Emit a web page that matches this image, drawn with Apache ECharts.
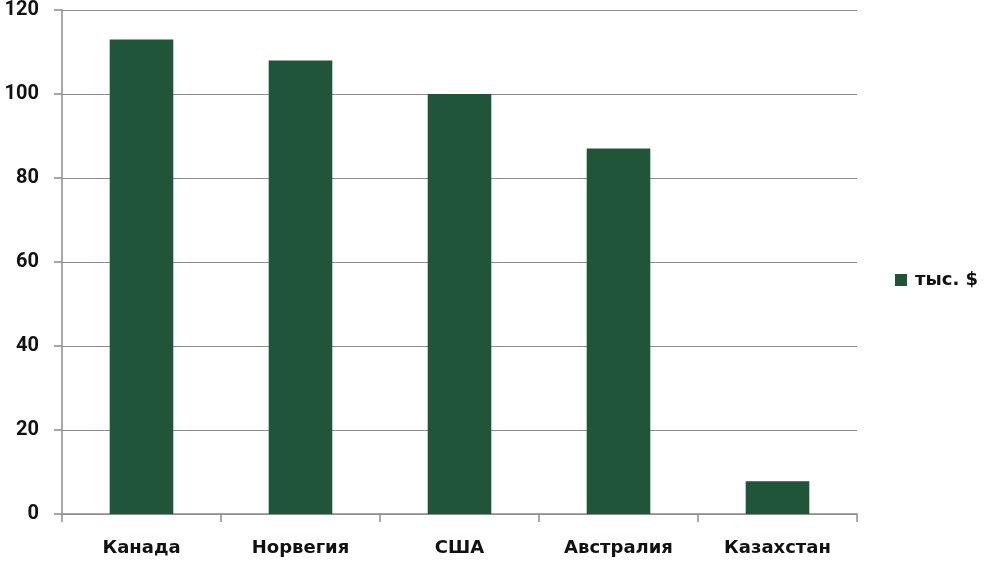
<!DOCTYPE html>
<html><head><meta charset="utf-8">
<script src="https://cdn.jsdelivr.net/npm/echarts@6/dist/echarts.min.js"></script>
<style>html,body{margin:0;padding:0;background:#fff}#c{width:1001px;height:581px}</style>
</head><body><div id="c"></div>
<script>
const categories = ['Канада', 'Норвегия', 'США', 'Австралия', 'Казахстан'];
const values = [113, 108, 100, 87, 7.8];
const seriesName = 'тыс. $';
const yTicks = [0, 20, 40, 60, 80, 100, 120];

const chart = echarts.init(document.getElementById('c'));
const font = 'Roboto, "Noto Sans", sans-serif';
const wideFont = '"DejaVu Sans", "Open Sans", sans-serif';
chart.setOption({
  animation: false,
  grid: { left: 62, right: 144, top: 10, bottom: 67, containLabel: false },
  legend: {
    data: [seriesName], orient: 'vertical', left: 890, top: 266,
    itemWidth: 12, itemHeight: 12, itemGap: 8,
    textStyle: { fontFamily: wideFont, fontWeight: 'bold', fontSize: 18, color: '#111', padding: [0, 0, 0, 3] },
    icon: 'rect'
  },
  xAxis: {
    type: 'category', data: categories, boundaryGap: true,
    axisLine: { lineStyle: { color: '#8c8c8c', width: 1.5 } },
    axisTick: { show: true, length: 8, alignWithLabel: false, lineStyle: { color: '#8c8c8c', width: 1.5 } },
    axisLabel: { fontFamily: wideFont, fontWeight: 'bold', fontSize: 18, color: '#111', margin: 25 }
  },
  yAxis: {
    type: 'value', min: yTicks[0], max: yTicks[yTicks.length - 1], interval: 20,
    axisLine: { show: true, lineStyle: { color: '#8c8c8c', width: 1.5 } },
    axisTick: { show: true, length: 8, lineStyle: { color: '#8c8c8c', width: 1.5 } },
    splitLine: { lineStyle: { color: '#8c8c8c', width: 1.2 } },
    axisLabel: { fontFamily: font, fontWeight: 'bold', fontSize: 20, color: '#111', margin: 23 }
  },
  series: [{
    name: seriesName, type: 'bar', data: values, barWidth: '40%',
    itemStyle: { color: '#20553a' }
  }]
});
</script></body></html>
